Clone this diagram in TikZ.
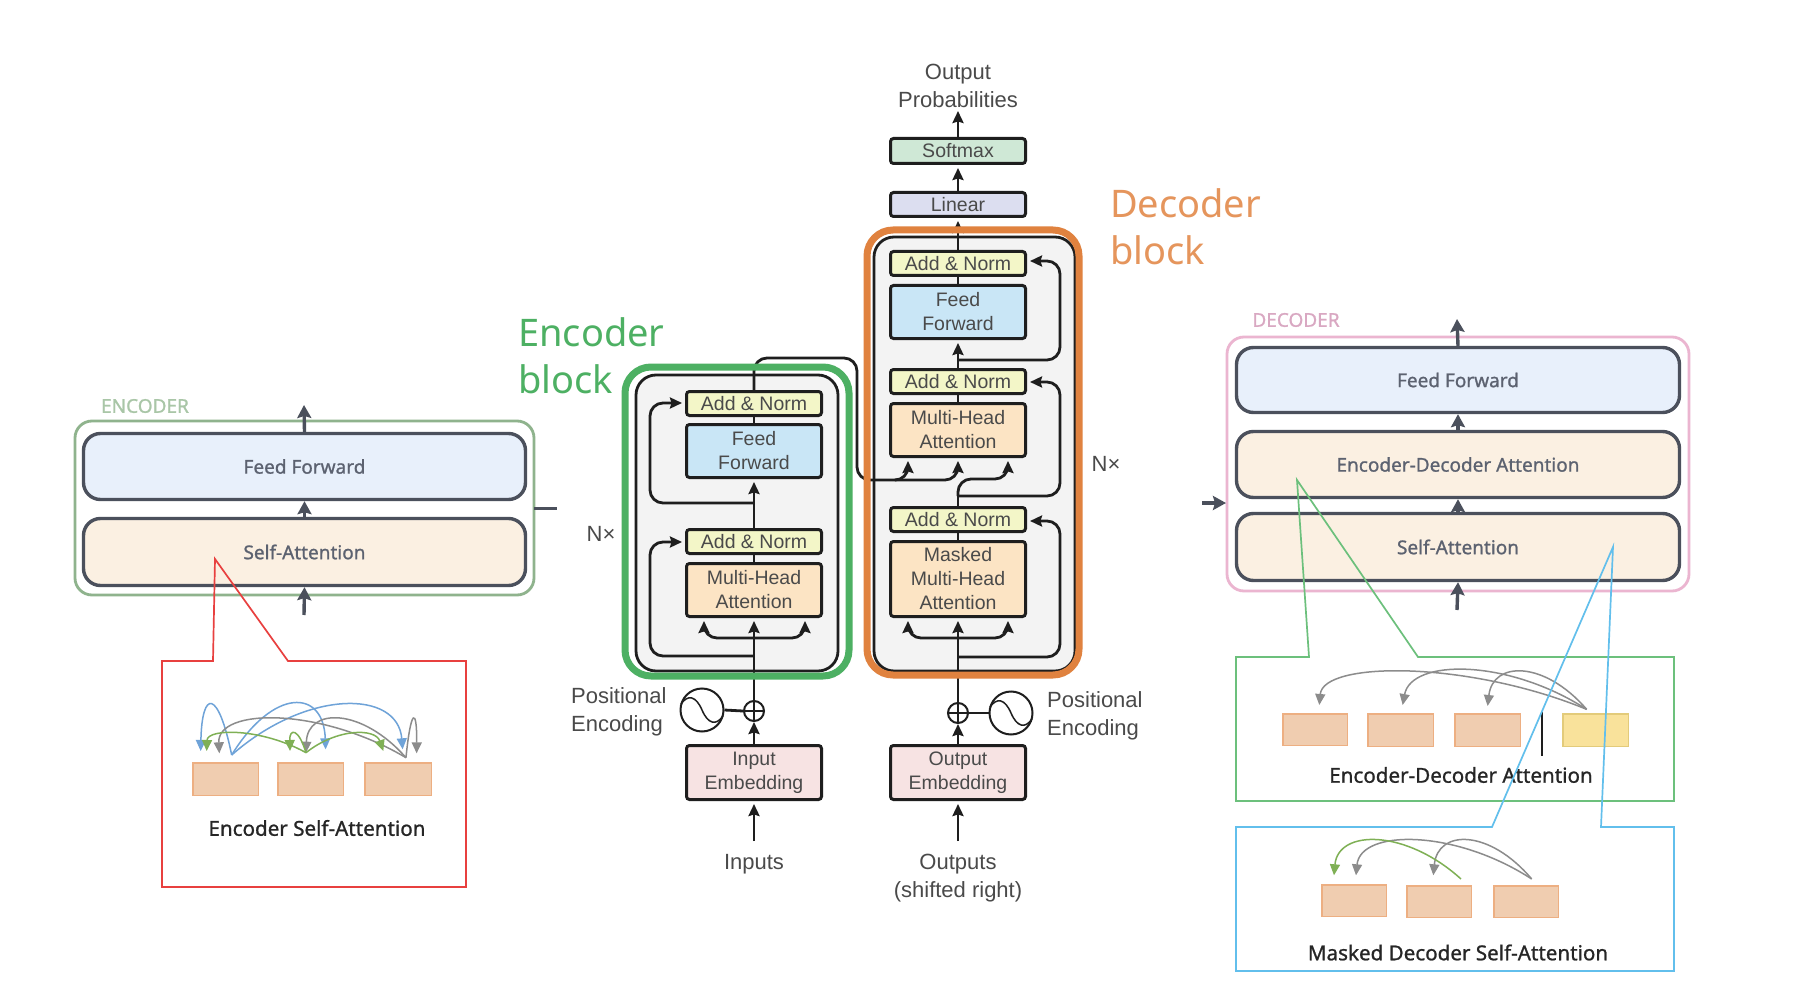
\documentclass[tikz,border=0pt]{standalone}
\usepackage{fontspec}
\usetikzlibrary{arrows.meta,calc}
\setmainfont{Liberation Sans}
\newfontfamily\nt[FakeBold=1.0]{Noto Sans}
\newfontfamily\ntl{Noto Sans}
\definecolor{linkk}{HTML}{1E1E1E}
\definecolor{txtc}{HTML}{4A4A4A}
\definecolor{gbox}{HTML}{4DB063}
\definecolor{obox}{HTML}{E0823F}
\definecolor{panel}{HTML}{F3F3F3}
\definecolor{anfill}{HTML}{F3F6C8}
\definecolor{fffill}{HTML}{C9E6F6}
\definecolor{mhfill}{HTML}{FCE4C4}
\definecolor{emfill}{HTML}{F7E3E3}
\definecolor{smfill}{HTML}{CFE8D6}
\definecolor{lnfill}{HTML}{DCDEF0}
\definecolor{slate}{HTML}{4B505C}
\definecolor{slatetxt}{HTML}{5C6270}
\definecolor{lblue}{HTML}{E8F0FB}
\definecolor{lcream}{HTML}{FBF0E2}
\definecolor{engreen}{HTML}{8FB38D}
\definecolor{enlabel}{HTML}{A9C6A7}
\definecolor{depink}{HTML}{EBB5D0}
\definecolor{delabel}{HTML}{D9A8C2}
\definecolor{cred}{HTML}{E8403F}
\definecolor{cgreen}{HTML}{6CC07C}
\definecolor{cblue}{HTML}{62BFEC}
\definecolor{tokfill}{HTML}{F0CDB0}
\definecolor{tokline}{HTML}{EDAF82}
\definecolor{yelfill}{HTML}{F9E29B}
\definecolor{yelline}{HTML}{E3CB7A}
\definecolor{arcblue}{HTML}{6FA3D8}
\definecolor{arcgrey}{HTML}{8C8C8C}
\definecolor{arcgreen}{HTML}{7FB055}
\newcommand{\xbox}[7]{\node[#2,minimum width={#5pt-#3pt-1pt},minimum height={#6pt-#4pt-1pt}] (#1) at ({(#3+#5)/2},{(#4+#6)/2}) {#7};}
\newcommand{\tok}[6]{\node[#2,minimum width={#5pt-#3pt-1.5pt},minimum height={#6pt-#4pt-1.5pt}] (#1) at ({(#3+#5)/2},{(#4+#6)/2}) {};}
% style, a, x0,y0, b, x3,y3, px,py
\newcommand{\arcc}[9]{%
  \pgfmathsetmacro\cmid{(8*#8-#3-#6)/6}%
  \pgfmathsetmacro\cy{(8*#9-#4-#7)/6}%
  \pgfmathsetmacro\cax{\cmid+(#3-\cmid)*0.38}%
  \pgfmathsetmacro\cbx{2*\cmid-\cax}%
  \coordinate (#2) at (#3,#4); \coordinate (#5) at (#6,#7);
  \draw[#1] (#2) .. controls (\cax,\cy) and (\cbx,\cy) .. (#5);}
\tikzset{
  block/.style={draw=linkk,line width=3pt,rounded corners=3pt,inner sep=0pt,align=center,text=txtc,font=\fontsize{19.5}{24}\selectfont},
  wire/.style={draw=linkk,line width=2.8pt},
  arr/.style={wire,-{Stealth[length=12pt,width=11pt,inset=1.5pt]}},
  rc/.style={rounded corners=13pt},
  lab/.style={text=txtc,font=\fontsize{22}{28}\selectfont,inner sep=0pt},
  nxlab/.style={text=txtc,font=\fontsize{22}{26}\selectfont,inner sep=0pt},
  wide/.style={draw=slate,line width=3.4pt,rounded corners=17pt,inner sep=0pt,text=slatetxt,font=\nt\fontsize{19}{22}\selectfont},
  ghost/.style={draw=slate,line width=3.4pt,-{Stealth[length=13pt,width=14pt,inset=2pt]}},
  toklab/.style={text=black!85,inner sep=0pt,font=\nt\fontsize{20.6}{24}\selectfont},
  token/.style={draw=tokline,fill=tokfill,line width=1.5pt,inner sep=0pt},
  ytoken/.style={draw=yelline,fill=yelfill,line width=1.5pt,inner sep=0pt},
  ablue/.style={draw=arcblue,line width=1.5pt,-{Stealth[length=11pt,width=10pt,inset=0pt]}},
  agrey/.style={draw=arcgrey,line width=1.5pt,-{Stealth[length=11pt,width=10pt,inset=0pt]}},
  agreen/.style={draw=arcgreen,line width=1.5pt,-{Stealth[length=11pt,width=10pt,inset=0pt]}},
  sinecirc/.style={circle,draw=linkk,line width=2pt,minimum size=43pt,inner sep=0pt},
  pluscirc/.style={circle,draw=linkk,line width=2pt,minimum size=20pt,inner sep=0pt},
}
\begin{document}
\begin{tikzpicture}[x=1pt,y=-1pt]
\useasboundingbox (0,0) rectangle (1800,995);
\fill[white] (0,0) rectangle (1800,995);

% ---------- left ENCODER ----------
\draw[draw=engreen,line width=2.8pt,rounded corners=17pt] (75,421) rectangle (534,595);
\node[text=enlabel,inner sep=0pt,font=\nt\fontsize{19}{22}\selectfont] (encname) at (145,406) {ENCODER};
\xbox{lFF}{wide,fill=lblue}{83}{433}{526}{500}{Feed Forward}
\xbox{lSA}{wide,fill=lcream}{83}{518}{526}{586}{Self-Attention}
\coordinate (lOutT) at (304,405);
\coordinate (lInB) at (304,615);
\coordinate (lOutR) at (557,508);
\coordinate (lOutL) at (534,508);
\draw[ghost] (lFF.north) -- (lOutT);
\draw[ghost] (lSA.north) -- (lFF.south);
\draw[ghost] (lInB) -- (lSA.south);
\draw[draw=slate,line width=3pt] (lOutL) -- (lOutR);

% red call-out
\draw[draw=cred,line width=1.7pt,line join=miter] (162,661) -- (213,661) -- (215,559) -- (288,661) -- (466,661) -- (466,887) -- (162,887) -- cycle;
\tok{rt1}{token}{192}{762}{259}{796}
\tok{rt2}{token}{277}{762}{344}{796}
\tok{rt3}{token}{364}{762}{432}{796}
\node[toklab] (rcap) at (317,828) {Encoder Self-Attention};
\begin{scope}[shift={(180,690)},x=.3333pt,y=-.3333pt]
\arcc{ablue}{ra}{155}{195}{rb}{62}{183}{95}{45}
\arcc{ablue}{rc1}{155}{195}{rd}{437}{178}{340}{42}
\arcc{ablue}{re}{155}{195}{rf}{668}{178}{490}{45}
\arcc{agrey}{rg}{678}{203}{rh}{710}{190}{700}{88}
\arcc{agrey}{ri}{678}{203}{rj}{378}{188}{480}{88}
\arcc{agrey}{rk}{678}{203}{rl}{118}{190}{300}{88}
\arcc{agreen}{rm}{378}{188}{rn}{80}{183}{180}{132}
\arcc{agreen}{ro}{378}{188}{rp}{330}{183}{345}{132}
\arcc{agreen}{rq}{378}{188}{rr}{610}{183}{520}{132}
\end{scope}

% ---------- central encoder ----------
\draw[draw=linkk,fill=panel,line width=2.8pt,rounded corners=20pt] (636,375) rectangle (838,671);
\xbox{eAN1}{block,fill=anfill}{686}{391}{822}{416}{Add \& Norm}
\xbox{eFF}{block,fill=fffill}{686}{424}{822}{478}{Feed\\Forward}
\xbox{eAN2}{block,fill=anfill}{686}{529}{822}{554}{Add \& Norm}
\xbox{eMH}{block,fill=mhfill}{686}{563}{822}{617}{Multi-Head\\Attention}
\xbox{iEmb}{block,fill=emfill}{686}{745}{822}{800}{Input\\Embedding}
\node[pluscirc] (ePlus) at (754,711) {};
\draw[draw=linkk,line width=1.5pt] (ePlus.north) -- (ePlus.south) (ePlus.west) -- (ePlus.east);
\node[sinecirc] (eSin) at (702,710) {};
\draw[draw=linkk,line width=1.5pt] ($(eSin)+(-21,-6)$) .. controls ($(eSin)+(-14,-16)$) and ($(eSin)+(-6,-14)$) .. (eSin.center) .. controls ($(eSin)+(6,14)$) and ($(eSin)+(14,16)$) .. ($(eSin)+(21,6)$);
\draw[wire] (eSin.east) -- (ePlus.west);
\node[lab,anchor=west,align=left] (ePos) at (571,712) {Positional\\Encoding};
\node[lab] (inTxt) at (754,864) {Inputs};
\coordinate (inTail) at (754,841);
\coordinate (eL1) at (650,403);
\coordinate (eJ1) at (754,503);
\coordinate (eL2) at (650,542);
\coordinate (eJ2) at (754,656);
\coordinate (eTri) at (754,638);
\coordinate (eTipL) at (704,621);
\coordinate (eTipR) at (805,621);
\draw[arr,shorten >=3pt] (inTail) -- (iEmb.south);
\draw[arr,shorten >=0pt] (iEmb.north) -- (ePlus.south);
\draw[arr,shorten >=3pt] (ePlus.north) -- (eMH.south);
\draw[wire] (eMH.north) -- (eAN2.south);
\draw[arr,shorten >=3pt] (eAN2.north) -- (eFF.south);
\draw[wire] (eFF.north) -- (eAN1.south);
\draw[arr,rc,shorten >=3pt] (eJ2) -| (eL2) -- (eL2 -| eAN2.west);
\draw[arr,rc,shorten >=3pt] (eJ1) -| (eL1) -- (eL1 -| eAN1.west);
\draw[arr,rc] (eTri) -| (eTipL);
\draw[arr,rc] (eTri) -| (eTipR);
\node[nxlab] (eNx) at (601,534) {N×};

% ---------- central decoder ----------
\draw[draw=linkk,fill=panel,line width=2.8pt,rounded corners=20pt] (874,237) rectangle (1075,671);
\xbox{dAN3}{block,fill=anfill}{890}{251}{1026}{276}{Add \& Norm}
\xbox{dFF}{block,fill=fffill}{890}{285}{1026}{339}{Feed\\Forward}
\xbox{dAN2}{block,fill=anfill}{890}{369}{1026}{394}{Add \& Norm}
\xbox{dMH}{block,fill=mhfill}{890}{403}{1026}{457}{Multi-Head\\Attention}
\xbox{dAN1}{block,fill=anfill}{890}{507}{1026}{532}{Add \& Norm}
\xbox{dMM}{block,fill=mhfill}{890}{541}{1026}{617}{Masked\\Multi-Head\\Attention}
\xbox{oEmb}{block,fill=emfill}{890}{745}{1026}{800}{Output\\Embedding}
\xbox{linB}{block,fill=lnfill}{890}{192}{1026}{217}{Linear}
\xbox{smB}{block,fill=smfill}{890}{138}{1026}{164}{Softmax}
\node[lab,align=center] (outTop) at (958,86) {Output\\Probabilities};
\node[pluscirc] (dPlus) at (958,713) {};
\draw[draw=linkk,line width=1.5pt] (dPlus.north) -- (dPlus.south) (dPlus.west) -- (dPlus.east);
\node[sinecirc] (dSin) at (1011,713) {};
\draw[draw=linkk,line width=1.5pt] ($(dSin)+(-21,-6)$) .. controls ($(dSin)+(-14,-16)$) and ($(dSin)+(-6,-14)$) .. (dSin.center) .. controls ($(dSin)+(6,14)$) and ($(dSin)+(14,16)$) .. ($(dSin)+(21,6)$);
\draw[wire] (dSin.west) -- (dPlus.east);
\node[lab,anchor=west,align=left] (dPos) at (1047,716) {Positional\\Encoding};
\node[lab,align=center] (outTxt) at (958,878) {Outputs\\(shifted right)};
\coordinate (outTail) at (958,841);
\coordinate (dR3) at (1060,261);
\coordinate (dJ3) at (958,360);
\coordinate (dR2) at (1060,382);
\coordinate (dJ2) at (958,496);
\coordinate (dR1) at (1060,521);
\coordinate (dJ1) at (958,657);
\coordinate (dTri) at (958,638);
\coordinate (dTipL) at (908,621);
\coordinate (dTipR) at (1008,621);
\coordinate (mTipL) at (908,461);
\coordinate (mTipC) at (958,461);
\coordinate (mTipR) at (1008,461);
\coordinate (mS) at (958,479);
\coordinate (crT) at (857,358);
\coordinate (crB) at (857,480);
\coordinate (crM) at (896,480);
\draw[arr,shorten >=3pt] (outTail) -- (oEmb.south);
\draw[arr] (oEmb.north) -- (dPlus.south);
\draw[arr,shorten >=3pt] (dPlus.north) -- (dMM.south);
\draw[wire] (dMM.north) -- (dAN1.south);
\draw[arr,rc] (dTri) -| (dTipL);
\draw[arr,rc] (dTri) -| (dTipR);
\draw[arr,rc,shorten >=3pt] (dJ1) -| (dR1) -- (dR1 -| dAN1.east);
\draw[wire] (dAN1.north) -- (dJ2);
\draw[arr,rc] (dJ2) -- (mS) -| (mTipR);
\draw[arr,rc,shorten >=3pt] (dJ2) -| (dR2) -- (dR2 -| dAN2.east);
\draw[wire] (dMH.north) -- (dAN2.south);
\draw[arr,shorten >=3pt] (dAN2.north) -- (dFF.south);
\draw[arr,rc,shorten >=3pt] (dJ3) -| (dR3) -- (dR3 -| dAN3.east);
\draw[wire] (dFF.north) -- (dAN3.south);
\draw[arr,shorten >=3pt] (dAN3.north) -- (linB.south);
\draw[arr,shorten >=3pt] (linB.north) -- (smB.south);
\draw[arr,shorten >=3pt] (smB.north) -- (outTop.south);
\draw[arr,rc] (eAN1.north) |- (crT) -- (crB) -| (mTipC);
\draw[arr,rc] (crM) -| (mTipL);
\node[nxlab] (dNx) at (1106,464) {N×};

% thick block outlines
\draw[draw=gbox,line width=7pt,rounded corners=26pt] (625,367) rectangle (849,676);
\draw[draw=obox,line width=7pt,rounded corners=26pt] (867,230) rectangle (1079,675);
\node[text=gbox,anchor=west,align=left,inner sep=0pt,font=\ntl\fontsize{38}{47}\selectfont] (encB) at (518,356) {Encoder\\block};
\node[text=obox!85!white,anchor=west,align=left,inner sep=0pt,font=\ntl\fontsize{38}{47}\selectfont] (decB) at (1110,227) {Decoder\\block};

% ---------- right DECODER ----------
\draw[draw=depink,line width=2.8pt,rounded corners=17pt] (1227,337) rectangle (1689,591);
\node[text=delabel,inner sep=0pt,font=\nt\fontsize{19}{22}\selectfont] (decname) at (1296,320) {DECODER};
\xbox{rFF}{wide,fill=lblue}{1236}{347}{1680}{413}{Feed Forward}
\xbox{rED}{wide,fill=lcream}{1236}{431}{1680}{498}{Encoder-Decoder Attention}
\xbox{rSA}{wide,fill=lcream}{1236}{513}{1680}{581}{Self-Attention}
\coordinate (rOutT) at (1457,319);
\coordinate (rInB) at (1457,610);
\coordinate (rInL) at (1202,503);
\coordinate (rInR) at (1226,503);
\draw[ghost] (rFF.north) -- (rOutT);
\draw[ghost] (rED.north) -- (rFF.south);
\draw[ghost] (rSA.north) -- (rED.south);
\draw[ghost] (rInB) -- (rSA.south);
\draw[ghost] (rInL) -- (rInR);

% green call-out
\draw[draw=cgreen,line width=1.7pt,line join=miter] (1236,657) -- (1309,657) -- (1297,480) -- (1418,657) -- (1674,657) -- (1674,801) -- (1236,801) -- cycle;
\tok{gt1}{token}{1282}{713}{1348}{746}
\tok{gt2}{token}{1367}{713}{1434}{747}
\tok{gt3}{token}{1454}{713}{1521}{747}
\tok{gt4}{ytoken}{1562}{713}{1629}{747}
\coordinate (barT) at (1542,712);
\coordinate (barB) at (1542,756);
\draw[draw=linkk,line width=1.5pt] (barT) -- (barB);
\node[toklab] (gcap) at (1461,775) {Encoder-Decoder Attention};
\begin{scope}[shift={(1220,640)},x=.3333pt,y=-.3333pt]
\arcc{agrey}{ga}{1100}{208}{gb}{298}{195}{570}{97}
\arcc{agrey}{gc}{1100}{208}{gd}{548}{195}{745}{92}
\arcc{agrey}{ge}{1100}{208}{gf}{803}{198}{910}{97}
\end{scope}

% blue call-out
\draw[draw=cblue,line width=1.7pt,line join=miter] (1236,827) -- (1492,827) -- (1613,547) -- (1601,827) -- (1674,827) -- (1674,971) -- (1236,971) -- cycle;
\tok{bt1}{token}{1321}{884}{1387}{917}
\tok{bt2}{token}{1406}{885}{1472}{918}
\tok{bt3}{token}{1493}{885}{1559}{918}
\node[toklab] (bcap) at (1458,952.5) {Masked Decoder Self-Attention};
\begin{scope}[shift={(1220,640)},x=.3333pt,y=-.3333pt]
\arcc{agrey}{ba}{935}{717}{bb}{408}{706}{590}{603}
\arcc{agrey}{bc}{935}{717}{bd}{640}{706}{745}{603}
\arcc{agreen}{be}{723}{717}{bf}{342}{706}{475}{603}
\end{scope}
\end{tikzpicture}
\end{document}
